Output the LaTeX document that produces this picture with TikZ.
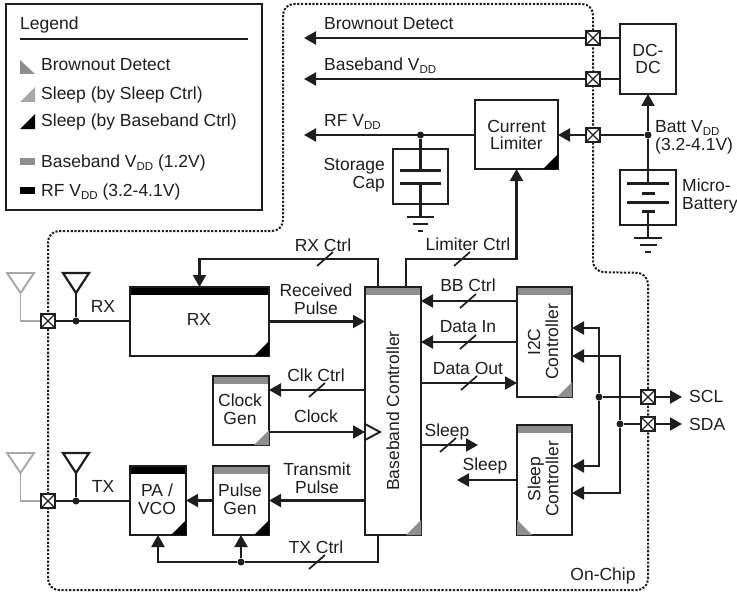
\documentclass[tikz,border=0pt]{standalone}
\usepackage{fontspec}
\setmainfont{Liberation Sans}
\usetikzlibrary{arrows.meta}
\definecolor{ink}{HTML}{1E1E1E}
\definecolor{band}{HTML}{8E8E8E}
\definecolor{lite}{HTML}{A8A8A8}
\newcommand\vdd{V\raisebox{-3pt}{\fontsize{11.5}{11.5}\selectfont DD}}
\tikzset{
  wire/.style={draw=ink,line width=2.2pt},
  arr/.style={wire,-{Triangle[length=12pt,width=13pt]}},
  thin wire/.style={draw=ink,line width=1.7pt},
  lab/.style={inner sep=0pt,text=ink,font=\fontsize{17.5}{18}\selectfont,text height=12.4pt,text depth=0pt},
  lab2/.style={inner sep=0pt,text=ink,font=\fontsize{17.5}{18}\selectfont,align=center},
  blk/.style={draw=ink,line width=2.4pt,inner sep=0pt,outer sep=0pt,text=ink,align=center,font=\fontsize{17.5}{18}\selectfont},
  dotnode/.style={circle,fill=ink,inner sep=0pt,minimum size=7pt},
  padbox/.style={draw=ink,line width=2.6pt,fill=white,minimum size=14pt,inner sep=0pt,outer sep=0pt,
    path picture={\draw[ink,line width=1.2pt] (path picture bounding box.north west)--(path picture bounding box.south east)
      (path picture bounding box.north east)--(path picture bounding box.south west);}},
  dots/.style={draw=ink,line width=2pt,dash pattern=on 2.2pt off 1.6pt,rounded corners=11pt},
  gnd/.style={draw=ink,line width=2.1pt},
}
\newcommand\tick[2]{\draw[thin wire] (#1-8,#2+7) -- (#1+8,#2-7);}
% name, centre, width, height
\newcommand\mkblk[5]{\node[blk,minimum width=#3pt,minimum height=#4pt] (#1) at (#2) {#5};}
\newcommand\bandtop[2]{\fill[#2] (#1.north west) rectangle ([yshift=-8pt]#1.north east);
  \draw[ink,line width=2.4pt] (#1.north west) rectangle (#1.south east);}
\newcommand\cornerSE[2]{\fill[#2] ([xshift=-15pt]#1.south east) -- (#1.south east) -- ([yshift=15pt]#1.south east) -- cycle;}
\begin{document}
\begin{tikzpicture}[x=1pt,y=-1pt]
\useasboundingbox (0,0) rectangle (737,594);

% on-chip outline
\draw[dots] (283,120) -- (283,4) -- (593,4) -- (593,272) -- (648,273) -- (648,590) -- (48,590) -- (48,231) -- (283,231) -- (283,120);

% legend
\node[draw=ink,line width=2.6pt,minimum width=256pt,minimum height=206pt,inner sep=0pt] (legend) at (134,107) {};
\node[lab,anchor=west] (lt) at (20,23) {Legend};
\coordinate (lr1) at (20,39); \coordinate (lr2) at (248,39);
\draw[ink,line width=2pt] (lr1) -- (lr2);
\fill[band] (20,60) -- (20,74) -- (35,74) -- cycle;
\fill[lite] (20,102) -- (35,102) -- (35,87) -- cycle;
\fill[black] (20,129) -- (35,129) -- (35,114) -- cycle;
\fill[band] (20,158) rectangle (35,165);
\fill[black] (20,187) rectangle (35,194);
\node[lab,anchor=west] (l1) at (41,64) {Brownout Detect};
\node[lab,anchor=west] (l2) at (41,93) {Sleep (by Sleep Ctrl)};
\node[lab,anchor=west] (l3) at (41,120) {Sleep (by Baseband Ctrl)};
\node[lab,anchor=west] (l4) at (41,161) {Baseband \vdd{} (1.2V)};
\node[lab,anchor=west] (l5) at (41,190) {RF \vdd{} (3.2-4.1V)};

% blocks
\mkblk{dcdc}{648,59}{56}{70}{DC-\\[-1pt]DC}
\mkblk{lim}{516.5,134.5}{83}{69}{Current\\[-1pt]Limiter}
\cornerSE{lim}{black}
\mkblk{cap}{420.5,176.5}{55}{55}{}
\mkblk{batt}{648,197.5}{56}{55}{}
\mkblk{bb}{393,411}{56}{248}{}
\bandtop{bb}{band}\cornerSE{bb}{band}
\node[lab,rotate=90] (bbt) at (bb) {Baseband Controller};
\mkblk{rx}{199.5,321.5}{139}{69}{}
\bandtop{rx}{black}\cornerSE{rx}{black}
\node[lab] (rxt) at (199,319) {RX};
\mkblk{clk}{241,410.5}{56}{69}{}
\bandtop{clk}{band}\cornerSE{clk}{band}
\node[lab2] (clkt) at (240,409) {Clock\\Gen};
\mkblk{pg}{241,500.5}{56}{69}{}
\bandtop{pg}{band}\cornerSE{pg}{black}
\node[lab2] (pgt) at (240,499) {Pulse\\Gen};
\mkblk{pa}{158,500.5}{56}{69}{}
\bandtop{pa}{black}\cornerSE{pa}{black}
\node[lab2] (pat) at (157,499) {PA /\\VCO};
\mkblk{i2c}{544.5,342}{55}{110}{}
\bandtop{i2c}{band}\cornerSE{i2c}{band}
\node[lab2,rotate=90] (i2ct) at (543,342) {I2C\\Controller};
\mkblk{slp}{544.5,480}{55}{110}{}
\bandtop{slp}{band}
\fill[band] ([yshift=15pt]slp.south west) -- (slp.south west) -- ([xshift=15pt]slp.south west) -- cycle;
\node[lab2,rotate=90] (slpt) at (543,479) {Sleep\\Controller};

% pads
\node[padbox] (pbo) at (593,38) {};
\node[padbox] (pbb) at (593,79) {};
\node[padbox] (pbt) at (593,135) {};
\node[padbox] (prx) at (48,321) {};
\node[padbox] (ptx) at (48,501) {};
\node[padbox] (pscl) at (648,397) {};
\node[padbox] (psda) at (648,424) {};

% free ends and junctions
\coordinate (ebo) at (304,38);
\coordinate (ebb) at (304,79);
\coordinate (erf) at (304,135);
\node[dotnode] (jrf) at (420.5,135) {};
\node[dotnode] (jbat) at (648,135) {};
\node[dotnode] (jrx) at (76,321) {};
\node[dotnode] (jtx) at (76,501) {};
\node[dotnode] (jtc) at (241,562) {};
\node[dotnode] (jscl) at (599,397) {};
\node[dotnode] (jsda) at (620,424) {};

% power
\draw[arr] (dcdc.west |- pbo) -- (ebo);
\draw[arr] (dcdc.west |- pbb) -- (ebb);
\draw[arr] (lim.west |- erf) -- (erf);
\draw[arr] (jbat) -- (lim.east |- jbat);
\draw[arr] (jbat) -- (dcdc.south);
\node[padbox] at (pbo) {};
\node[padbox] at (pbb) {};
\node[padbox] at (pbt) {};

% storage cap
\coordinate (cp1) at (420.5,170); \coordinate (cp2) at (420.5,183); \coordinate (cg) at (420.5,217);
\draw[wire] (jrf) -- (cp1);
\draw[wire] (cp2) -- (cg);
\draw[draw=ink,line width=3pt] (400,170) -- (441,170) (400,183) -- (441,183);
\draw[gnd] (407,217) -- (434,217) (413,224) -- (428,224);
\draw[gnd] (418,231) -- (423,231);
\node[lab2,anchor=east,align=right] (capt) at (385,175) {Storage\\Cap};

% battery
\coordinate (bp1) at (648,183); \coordinate (bp2) at (648,211); \coordinate (bg) at (648,238);
\draw[wire] (jbat) -- (bp1);
\draw[wire] (bp2) -- (bg);
\draw[draw=ink,line width=3pt] (627,183) -- (669,183) (627,202) -- (669,202) (642,193) -- (655,193) (642,211) -- (655,211);
\draw[gnd] (634,238) -- (662,238) (640,245) -- (657,245);
\draw[gnd] (645,252) -- (651,252);
\node[lab2,anchor=west,align=left] (battt) at (655,137) {Batt \vdd\\(3.2-4.1V)};
\node[lab2,anchor=west,align=left] (mb) at (682,196) {Micro-\\Battery};

\node[lab,anchor=west] at (324,23) {Brownout Detect};
\node[lab,anchor=west] at (324,64) {Baseband \vdd};
\node[lab,anchor=west] at (324,120) {RF \vdd};

% antennas
\begin{scope}
\coordinate (g1) at (20.5,293); \coordinate (g2) at (20.5,473);
\draw[draw=lite,line width=1.9pt] (7,273) -- (34,273) -- (g1) -- cycle;
\draw[draw=lite,line width=1.9pt] (g1) |- (prx);
\draw[draw=lite,line width=1.9pt] (7,453) -- (34,453) -- (g2) -- cycle;
\draw[draw=lite,line width=1.9pt] (g2) |- (ptx);
\coordinate (a1) at (76,293); \coordinate (a2) at (76,473);
\draw[wire] (63,273) -- (89,273) -- (a1) -- cycle;
\draw[wire] (a1) -- (jrx);
\draw[wire] (63,453) -- (89,453) -- (a2) -- cycle;
\draw[wire] (a2) -- (jtx);
\end{scope}
\draw[wire] (prx) -- (rx.west |- prx);
\draw[wire] (ptx) -- (pa.west |- ptx);
\node[padbox] at (prx) {};
\node[padbox] at (ptx) {};
\node[lab] at (103,306) {RX};
\node[lab] at (103,486) {TX};

% control
\coordinate (yrxc) at (0,259);
\coordinate (yclk) at (0,390);
\coordinate (yclock) at (0,432);
\coordinate (ytc) at (0,562);
\coordinate (ybbc) at (0,301);
\coordinate (ydi) at (0,342);
\coordinate (ydo) at (0,383);
\coordinate (ys1) at (0,445);
\coordinate (ys2) at (0,480);
\coordinate (bbl) at (378,287);
\coordinate (bbr) at (406,287);
\coordinate (tip1) at (478,445);
\coordinate (tip2) at (457,480);
\draw[arr,rounded corners=0pt] (bbl) |- (rx.north |- yrxc) -- (rx.north);
\draw[arr] (bbr) |- (lim.south |- yrxc) -- (lim.south);
\draw[arr] (rx.east) -- (bb.west |- rx.east);
\draw[arr] (bb.west |- yclk) -- (clk.east |- yclk);
\draw[arr] (clk.east |- yclock) -- (bb.west |- yclock);
\draw[draw=ink,line width=1.9pt,fill=white] (365,424) -- (380,432) -- (365,440) -- cycle;
\draw[arr] (bb.west |- pg.east) -- (pg.east);
\draw[arr] (pg.west) -- (pa.east);
\draw[wire] (378,535) |- (jtc);
\draw[arr] (jtc) -- (pg.south -| jtc);
\draw[arr] (jtc) -| (pa.south);
\draw[arr] (i2c.west |- ybbc) -- (bb.east |- ybbc);
\draw[arr] (i2c.west |- ydi) -- (bb.east |- ydi);
\draw[arr] (bb.east |- ydo) -- (i2c.west |- ydo);
\draw[arr] (bb.east |- ys1) -- (tip1);
\draw[arr] (slp.west |- ys2) -- (tip2);

\coordinate (t1) at (599,328); \coordinate (t2) at (620,356);
\coordinate (t3) at (599,466); \coordinate (t4) at (620,493);
\draw[arr] (jscl) -- (t1) -- (i2c.east |- t1);
\draw[arr] (jscl) -- (t3) -- (slp.east |- t3);
\draw[arr] (jsda) -- (t2) -- (i2c.east |- t2);
\draw[arr] (jsda) -- (t4) -- (slp.east |- t4);
\coordinate (escl) at (682,397); \coordinate (esda) at (682,424);
\draw[arr] (jscl) -- (escl);
\draw[arr] (jsda) -- (esda);
\node[padbox] at (pscl) {};
\node[padbox] at (psda) {};

\tick{325}{259}\tick{462}{259}\tick{317}{390}\tick{317}{562}
\tick{468}{301}\tick{468}{342}\tick{469}{383}\tick{448}{445}

\node[lab] at (323,245) {RX Ctrl};
\node[lab] at (468,244) {Limiter Ctrl};
\node[lab2] at (316,299) {Received\\Pulse};
\node[lab] at (316,375) {Clk Ctrl};
\node[lab] at (316,416) {Clock};
\node[lab2] at (317,478) {Transmit\\Pulse};
\node[lab] at (316,547) {TX Ctrl};
\node[lab] at (468,285) {BB Ctrl};
\node[lab] at (468,326) {Data In};
\node[lab] at (468,368) {Data Out};
\node[lab] at (447,430) {Sleep};
\node[lab] at (485,464) {Sleep};
\node[lab,anchor=west] at (689,396) {SCL};
\node[lab,anchor=west] at (689,424) {SDA};
\node[lab] at (603,574) {On-Chip};
\end{tikzpicture}
\end{document}
